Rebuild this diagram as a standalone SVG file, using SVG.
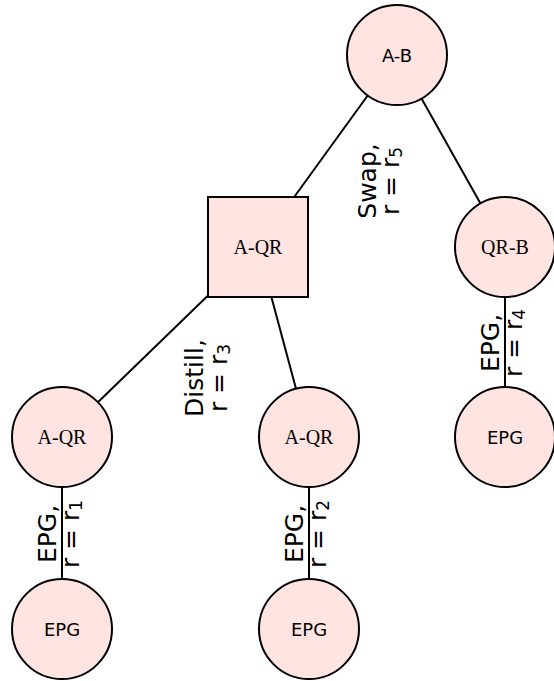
<svg xmlns="http://www.w3.org/2000/svg" width="554" height="681" viewBox="0 0 554 681">
<style>
.node{fill:#ffe4e1;stroke:#000;stroke-width:2}
.edge{stroke:#000;stroke-width:2;fill:none}
.ns{font-family:"DejaVu Sans",sans-serif;font-size:18px;text-anchor:middle;fill:#000}
.nr{font-family:"Liberation Serif",serif;font-size:20px;text-anchor:middle;fill:#000}
.lbl{font-family:"DejaVu Sans",sans-serif;font-size:25px;text-anchor:middle;fill:#000}
.sub{font-size:17px}
</style>
<rect width="554" height="681" fill="#fff"/>
<g id="connectors">
<line class="edge" x1="367.7" y1="95.5" x2="294.2" y2="197"/>
<line class="edge" x1="421.5" y1="98.6" x2="480.5" y2="203.4"/>
<line class="edge" x1="208" y1="295.5" x2="97.9" y2="402.2"/>
<line class="edge" x1="271.4" y1="297" x2="296" y2="388.7"/>
<line class="edge" x1="62" y1="487" x2="62" y2="579"/>
<line class="edge" x1="309" y1="487" x2="309" y2="579"/>
<line class="edge" x1="505" y1="297" x2="505" y2="387"/>
</g>
<g id="n-AB"><circle class="node" cx="397" cy="55" r="50"/><text class="ns" x="397" y="61.5">A-B</text></g>
<g id="n-AQR-top"><rect class="node" x="208" y="197" width="100" height="100"/><text class="nr" x="258" y="253.6">A-QR</text></g>
<g id="n-QRB"><circle class="node" cx="505" cy="247" r="50"/><text class="nr" x="505" y="253.6">QR-B</text></g>
<g id="n-AQR-left"><circle class="node" cx="62" cy="437" r="50"/><text class="nr" x="62" y="443.6">A-QR</text></g>
<g id="n-AQR-mid"><circle class="node" cx="309" cy="437" r="50"/><text class="nr" x="309" y="443.6">A-QR</text></g>
<g id="n-EPG-right"><circle class="node" cx="505" cy="437" r="50"/><text class="ns" x="505" y="443.5">EPG</text></g>
<g id="n-EPG-left"><circle class="node" cx="62" cy="629" r="50"/><text class="ns" x="62" y="635.5">EPG</text></g>
<g id="n-EPG-mid"><circle class="node" cx="309" cy="629" r="50"/><text class="ns" x="309" y="635.5">EPG</text></g>
<g id="lbl-swap" transform="translate(376,181) rotate(-90)">
<text class="lbl" x="0" y="0">Swap,</text>
<text class="lbl" x="0" y="23">r = r<tspan class="sub" dy="3">5</tspan></text>
</g>
<g id="lbl-distill" transform="translate(203,378) rotate(-90)">
<text class="lbl" x="0" y="0">Distill,</text>
<text class="lbl" x="0" y="24">r = r<tspan class="sub" dy="3">3</tspan></text>
</g>
<g id="lbl-left" transform="translate(62,534) rotate(-90)">
<text class="lbl" x="0" y="-6">EPG,</text>
<text class="lbl" x="0" y="17">r = r<tspan class="sub" dy="3">1</tspan></text>
</g>
<g id="lbl-mid" transform="translate(309,534) rotate(-90)">
<text class="lbl" x="0" y="-6">EPG,</text>
<text class="lbl" x="0" y="17">r = r<tspan class="sub" dy="3">2</tspan></text>
</g>
<g id="lbl-right" transform="translate(505,343) rotate(-90)">
<text class="lbl" x="0" y="-6">EPG,</text>
<text class="lbl" x="0" y="17">r = r<tspan class="sub" dy="3">4</tspan></text>
</g>
</svg>
